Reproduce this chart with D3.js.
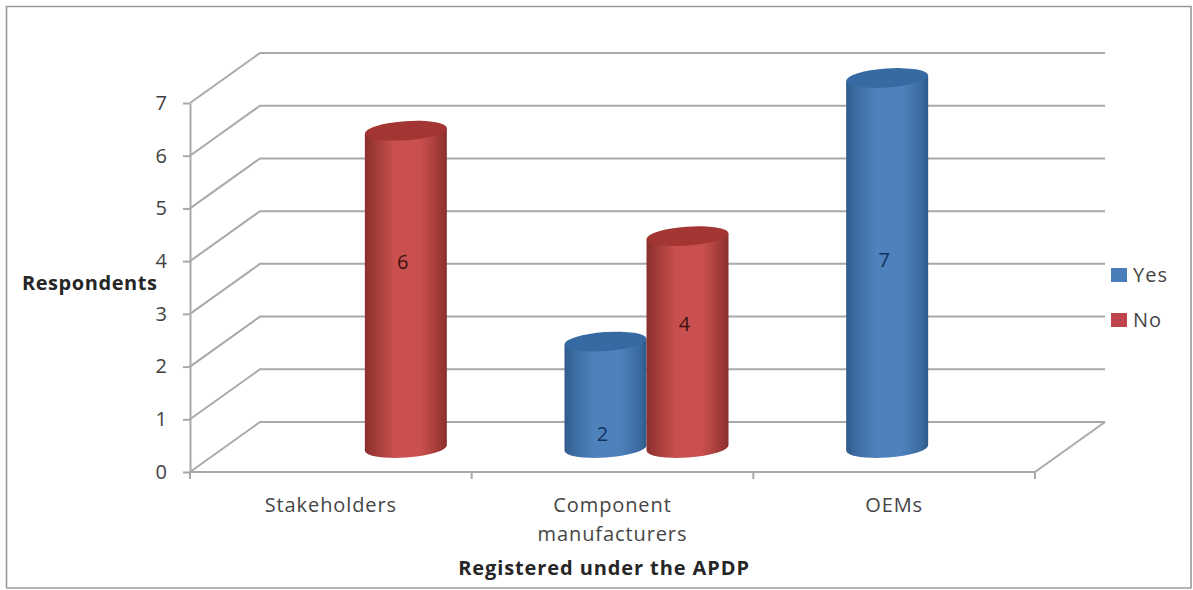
<!DOCTYPE html>
<html>
<head>
<meta charset="utf-8">
<script src="https://cdnjs.cloudflare.com/ajax/libs/d3/7.8.5/d3.min.js"></script>
<style>
html, body { margin: 0; padding: 0; background: #fff; }
svg { display: block; }
text { font-family: "Open Sans", sans-serif; }
</style>
</head>
<body>
<script>
// Chart content
const categories = ["Stakeholders", "Component manufacturers", "OEMs"];
const categoryLines = [["Stakeholders"], ["Component", "manufacturers"], ["OEMs"]];
const seriesNames = ["Yes", "No"];
const yesValues = [null, 2, 7];
const noValues = [6, 4, null];
const yTicks = [0, 1, 2, 3, 4, 5, 6, 7];
// Height of each printed value on its cylinder, in axis units
const yesLabelAt = [null, 0.3, 3.6];
const noLabelAt = [3.57, 2.4, null];

const width = 1193, height = 590;
const plot = { left: 190, right: 1035, top: 103, bottom: 472 };
const depth = { x: 70, y: 50 };
const barShift = { x: 34, topY: 25, baseY: 24, labelY: 22 };
const rim = { ry: 9.5, tilt: -4 };
const palette = {
  Yes: { edge: "#2f5a8c", mid: "#4f81bd", side: "#3a6a9e", top: "#376aa3", text: "#14345f", key: "#4a7ebb" },
  No:  { edge: "#8b2f2d", mid: "#c9504e", side: "#9c3835", top: "#a33533", text: "#3d1210", key: "#c0454a" }
};
const gridColor = "#a9a9a9";

const svg = d3.select("body").append("svg").attr("width", width).attr("height", height);

const x = d3.scaleBand().domain(categories).range([plot.left, plot.right]);
const inner = d3.scaleBand().domain(seriesNames).range([0, x.bandwidth()]).paddingInner(0).paddingOuter(0.7175);
const y = d3.scaleLinear().domain([0, 7]).range([plot.bottom, plot.top]);

// Chart area outline
svg.append("path")
  .attr("d", `M6.5,${height - 2}V6.5H${width - 2}V${height - 2}H6.5`)
  .attr("fill", "none").attr("stroke", "#9a9a9a").attr("stroke-width", 1.6);

// Side wall, back wall and floor lines
const grid = svg.append("g").attr("fill", "none").attr("stroke", gridColor).attr("stroke-width", 2);
grid.selectAll("path.level").data(yTicks).join("path")
  .attr("class", "level")
  .attr("d", d => `M${plot.left},${y(d)}L${plot.left + depth.x},${y(d) - depth.y}H${plot.right + depth.x}`);
grid.append("path")
  .attr("d", `M${plot.right},${plot.bottom}L${plot.right + depth.x},${plot.bottom - depth.y}`);

// Horizontal gradients give the cylinders their rounded shading
const defs = svg.append("defs");
seriesNames.forEach(name => {
  const c = palette[name];
  const grad = defs.append("linearGradient").attr("id", "body" + name);
  [[0, c.edge], [0.1, c.side], [0.36, c.mid], [0.68, c.mid], [0.92, c.side], [1, c.edge]].forEach(([o, col]) =>
    grad.append("stop").attr("offset", o).attr("stop-color", col));
});

// Cylinders
const bars = [];
seriesNames.forEach((name, s) => {
  const values = s === 0 ? yesValues : noValues;
  const labels = s === 0 ? yesLabelAt : noLabelAt;
  categories.forEach((cat, i) => {
    if (values[i] != null) bars.push({ name, cat, value: values[i], labelAt: labels[i] });
  });
});
bars.sort((a, b) => d3.ascending(categories.indexOf(a.cat), categories.indexOf(b.cat)));

const rimDrop = d => Math.sin(-rim.tilt * Math.PI / 180) * d;
svg.selectAll("g.bar").data(bars).join("g").attr("class", "bar").each(function (d) {
  const g = d3.select(this);
  const rx = inner.bandwidth() / 2;
  const cx = x(d.cat) + inner(d.name) + barShift.x + rx;
  const top = y(d.value) - barShift.topY;
  const base = y(0) - barShift.baseY;
  const drop = rimDrop(rx);
  g.append("path")
    .attr("d", `M${cx - rx},${top + drop}L${cx - rx},${base + drop}` +
      `A${rx},${rim.ry} ${rim.tilt} 0 0 ${cx + rx},${base - drop}L${cx + rx},${top - drop}Z`)
    .attr("fill", `url(#body${d.name})`);
  g.append("ellipse")
    .attr("cx", cx).attr("cy", top).attr("rx", rx).attr("ry", rim.ry)
    .attr("transform", `rotate(${rim.tilt} ${cx} ${top})`)
    .attr("fill", palette[d.name].top);
  g.append("text")
    .attr("x", cx - 3).attr("y", y(d.labelAt) - barShift.labelY)
    .attr("dy", "0.36em").attr("text-anchor", "middle")
    .attr("font-size", 20).attr("fill", palette[d.name].text)
    .text(d.value);
});

// Value axis
const yAxis = svg.append("g").attr("transform", `translate(${plot.left},0)`)
  .call(d3.axisLeft(y).tickValues(yTicks).tickFormat(d3.format("d")).tickSize(7).tickPadding(16).tickSizeOuter(0));
yAxis.selectAll("path, line").attr("stroke", gridColor).attr("stroke-width", 2);
yAxis.selectAll("text").attr("font-size", 20).attr("fill", "#3f3f3f").attr("font-family", '"Open Sans", sans-serif');

// Category axis: ticks sit on the band edges, labels in the band centres
const edges = categories.map(c => x(c)).concat(plot.right);
const xAxis = svg.append("g").attr("transform", `translate(0,${plot.bottom})`);
xAxis.append("line").attr("x1", plot.left).attr("x2", plot.right)
  .attr("stroke", gridColor).attr("stroke-width", 2);
xAxis.selectAll("line.tick").data(edges).join("line")
  .attr("class", "tick").attr("x1", d => d).attr("x2", d => d).attr("y1", 0).attr("y2", 7)
  .attr("stroke", gridColor).attr("stroke-width", 2);
const catLabels = xAxis.selectAll("text").data(categories).join("text")
  .attr("text-anchor", "middle").attr("font-size", 20).attr("letter-spacing", 0.9).attr("fill", "#454545");
catLabels.selectAll("tspan").data((d, i) => categoryLines[i].map(t => ({ t, cx: x(d) + x.bandwidth() / 2 }))).join("tspan")
  .attr("x", d => d.cx).attr("y", (d, i) => 40 + i * 29).text(d => d.t);

// Axis titles
svg.append("text").attr("x", 22).attr("y", 290)
  .attr("font-size", 20).attr("letter-spacing", 0.55).attr("font-weight", 700).attr("fill", "#262626").text("Respondents");
svg.append("text").attr("x", 604).attr("y", 575).attr("text-anchor", "middle")
  .attr("font-size", 20).attr("letter-spacing", 0.9).attr("font-weight", 700).attr("fill", "#262626").text("Registered under the APDP");

// Legend
const legendY = d3.scalePoint().domain(seriesNames).range([275, 320]);
const legend = svg.selectAll("g.key").data(seriesNames).join("g").attr("class", "key")
  .attr("transform", d => `translate(1111,${legendY(d)})`);
legend.append("rect").attr("x", 0).attr("y", -7).attr("width", 16).attr("height", 14)
  .attr("fill", d => palette[d].key);
legend.append("text").attr("x", 22).attr("dy", "0.36em").attr("font-size", 20).attr("letter-spacing", 1).attr("fill", "#454545").text(d => d);
</script>
</body>
</html>
